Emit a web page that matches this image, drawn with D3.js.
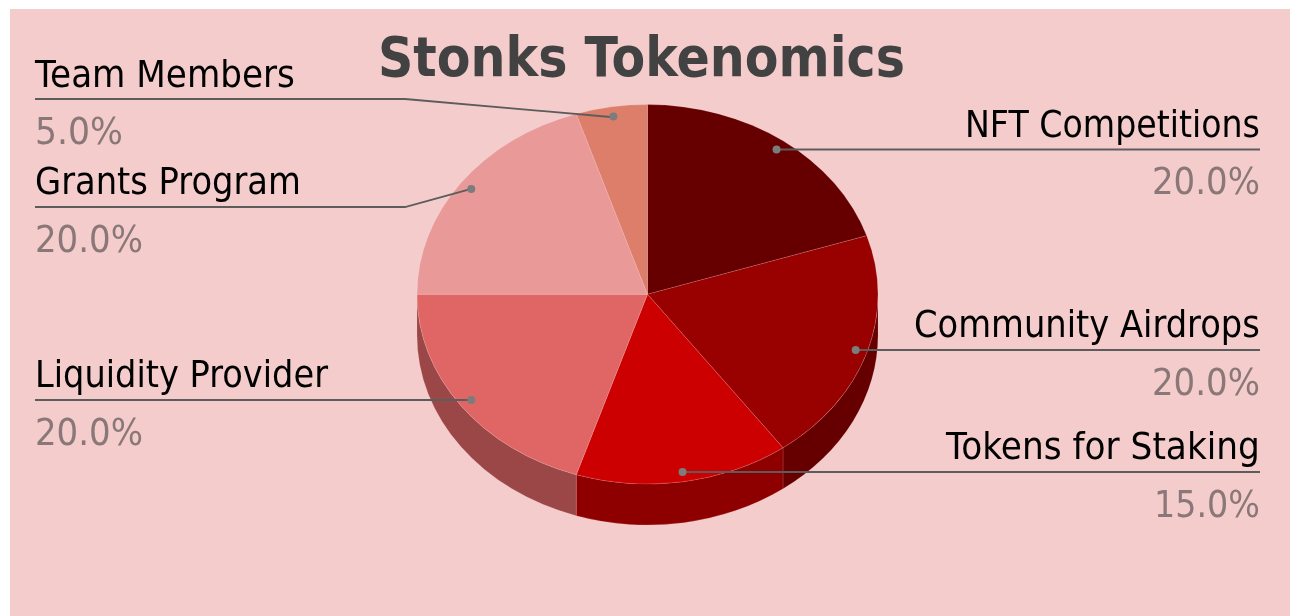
<!DOCTYPE html>
<html><head><meta charset="utf-8">
<script src="https://cdn.jsdelivr.net/npm/d3@7"></script>
<style>html,body{margin:0;padding:0;background:#fff;overflow:hidden}svg{display:block}
text{font-family:"DejaVu Sans",sans-serif}</style></head><body>
<svg id="c" width="1290" height="616"></svg>
<script>
const categories = ["NFT Competitions","Community Airdrops","Tokens for Staking","Liquidity Provider","Grants Program","Team Members"];
const shares = [20,20,15,20,20,5];
const faceColors = ["#660000","#990000","#cc0000","#e06666","#ea9999","#dd7e6b"];
const wallColors = ["#470000","#660000","#8e0000","#9c4747","#a36b6b","#9a5849"];
const title = "Stonks Tokenomics";
const labelBaselines = [136.5,337,459,387,194,86.5];
const lineLevels = [149.5,350,472,400,207,99];
const nameWidths = [295,346,314,293,266,260];
const valueWidths = [108,108,106,108,108,88];

const W=1290,H=616,cx=647.5,cy=294.3,rx=230.5,ry=189.7,depth=41;
const svg=d3.select("#c");
const blur=svg.append("defs").append("filter").attr("id","soft").attr("filterUnits","userSpaceOnUse")
  .attr("x",0).attr("y",0).attr("width",W).attr("height",H);
blur.append("feGaussianBlur").attr("stdDeviation",0.7);
svg.append("rect").attr("x",10).attr("y",9).attr("width",W-10).attr("height",H-9).attr("fill","#f4cccc");
const root=svg.append("g").attr("filter","url(#soft)");

const pie=d3.pie().sort(null).value(d=>d)(shares);
const px=a=>cx+rx*Math.sin(a), py=a=>cy-ry*Math.cos(a);

const half=Math.PI/2, lim=Math.PI*1.5;
root.append("g").selectAll("path").data(pie.filter(p=>p.endAngle>half&&p.startAngle<lim)).join("path")
 .attr("fill",d=>wallColors[d.index])
 .attr("stroke","#f4cccc").attr("stroke-opacity",.15).attr("stroke-width",1)
 .attr("d",d=>{const a0=Math.max(d.startAngle,half),a1=Math.min(d.endAngle,lim);
   return `M${px(a0)},${py(a0)}A${rx},${ry} 0 0 1 ${px(a1)},${py(a1)}L${px(a1)},${py(a1)+depth}A${rx},${ry} 0 0 0 ${px(a0)},${py(a0)+depth}Z`;});

const arc=d3.arc().innerRadius(0).outerRadius(rx);
const face=root.append("g").attr("transform",`translate(${cx},${cy}) scale(1,${ry/rx})`);
face.selectAll("path").data(pie).join("path").attr("d",arc)
 .attr("fill",d=>faceColors[d.index])
 .attr("stroke","#ffffff").attr("stroke-opacity",.14).attr("stroke-width",1).attr("vector-effect","non-scaling-stroke");

// text squeezed horizontally to a measured width, anchored at its left edge
function fitted(parent,str,x,y,width,size,fill,weight){
  const t=parent.append("text").attr("font-size",size).attr("fill",fill).attr("font-weight",weight||"normal").text(str);
  const natural=t.node().getComputedTextLength();
  t.attr("transform",`translate(${x},${y}) scale(${width/natural},1)`);
  return t;
}

const g=root.append("g");
pie.forEach(d=>{
  const i=d.index, m=(d.startAngle+d.endAngle)/2;
  const r=.945, dx=cx+rx*r*Math.sin(m), dy=cy-ry*r*Math.cos(m);
  const right=Math.sin(m)>0, ly=lineLevels[i];
  const edge=right?1260:35;
  const pts=right?[[dx,ly],[edge,ly]]:(Math.abs(dy-ly)>4?[[dx,dy],[405,ly],[edge,ly]]:[[dx,ly],[edge,ly]]);
  g.append("path").attr("d",d3.line()(pts)).attr("fill","none").attr("stroke","#5c5c5c").attr("stroke-width",1.8);
  g.append("circle").attr("cx",pts[0][0]+(right?1:0)).attr("cy",pts[0][1]-(i===5?0.7:0)).attr("r",4).attr("fill","#7c7c7c");
  fitted(g,categories[i],right?edge-nameWidths[i]:edge,labelBaselines[i],nameWidths[i],38,"#000");
  fitted(g,d3.format(".1f")(d.value)+"%",right?edge-valueWidths[i]:edge,ly+44.5,valueWidths[i],37,"#8a7878");
});
fitted(root,title,378,75.5,527,56,"#434343","bold");
</script></body></html>
